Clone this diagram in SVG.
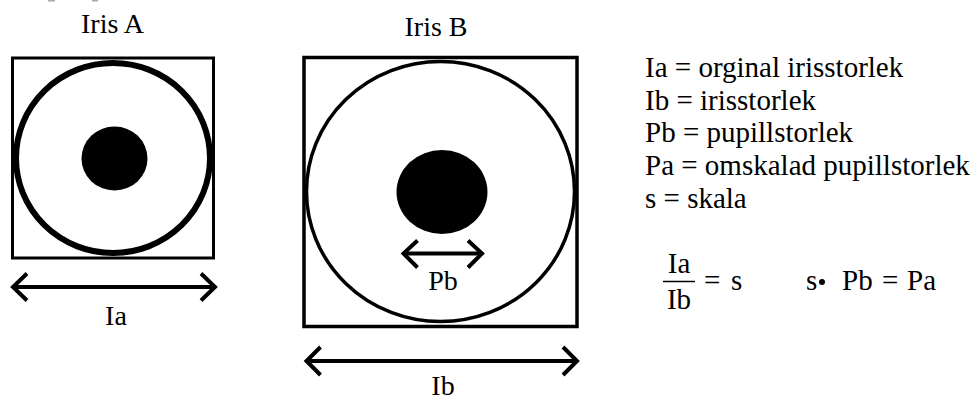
<svg xmlns="http://www.w3.org/2000/svg" width="980" height="401" viewBox="0 0 980 401">
  <style>
    text { font-family: "Liberation Serif", "Times New Roman", serif; fill: #000; }
    .lbl { font-size: 28px; text-anchor: middle; }
    .leg { font-size: 29px; }
    .box { fill: none; stroke: #000; }
    .dim { fill: none; stroke: #000; stroke-width: 4; stroke-linecap: butt; stroke-linejoin: miter; }
  </style>
  <rect width="980" height="401" fill="#fff"/>
  <rect x="48" y="0" width="7" height="1.5" fill="#aaa"/>
  <rect x="92" y="0" width="6" height="1.5" fill="#aaa"/>

  <g id="iris-a">
    <text class="lbl" x="112.5" y="33">Iris A</text>
    <rect class="box" x="12.5" y="58" width="201" height="200" stroke-width="3"/>
    <ellipse class="box" cx="113" cy="158" rx="97" ry="95" stroke-width="6"/>
    <ellipse cx="114.5" cy="158.5" rx="33" ry="32" fill="#000"/>
  </g>

  <g id="iris-b">
    <text class="lbl" x="436" y="36">Iris B</text>
    <rect class="box" x="304" y="57.5" width="273" height="269" stroke-width="3.5"/>
    <ellipse class="box" cx="440.5" cy="191.5" rx="134" ry="130" stroke-width="3.5"/>
    <ellipse cx="442" cy="192" rx="45.5" ry="42" fill="#000"/>
  </g>

  <g id="connectors">
    <g id="dim-ia">
      <line class="dim" x1="13" y1="287" x2="215" y2="287"/>
      <polyline class="dim" points="27,273.5 13,287 27,300.5"/>
      <polyline class="dim" points="201,273.5 215,287 201,300.5"/>
    </g>
    <g id="dim-pb">
      <line class="dim" x1="403.5" y1="253.5" x2="482" y2="253.5"/>
      <polyline class="dim" points="417.5,240.5 403.5,253.5 417.5,267.5"/>
      <polyline class="dim" points="468,240.5 482,253.5 468,267.5"/>
    </g>
    <g id="dim-ib">
      <line class="dim" x1="306.5" y1="361" x2="577" y2="361"/>
      <polyline class="dim" points="320.5,347 306.5,361 320.5,375"/>
      <polyline class="dim" points="563,347 577,361 563,375"/>
    </g>
  </g>

  <g id="labels">
    <text class="lbl" x="116" y="325">Ia</text>
    <text class="lbl" x="443" y="290">Pb</text>
    <text class="lbl" x="443" y="395">Ib</text>
  </g>

  <g id="legend">
    <text class="leg" x="645" y="77">Ia = orginal irisstorlek</text>
    <text class="leg" x="645" y="110">Ib = irisstorlek</text>
    <text class="leg" x="645" y="142">Pb = pupillstorlek</text>
    <text class="leg" x="645" y="175">Pa = omskalad pupillstorlek</text>
    <text class="leg" x="645" y="208">s = skala</text>
  </g>

  <g id="formulas">
    <text class="leg" x="679" y="272.5" text-anchor="middle">Ia</text>
    <line x1="663" y1="281.5" x2="695" y2="281.5" stroke="#000" stroke-width="1.5"/>
    <text class="leg" x="679" y="308.5" text-anchor="middle">Ib</text>
    <text class="leg" x="704" y="289.5">=</text>
    <text class="leg" x="731" y="289.5">s</text>
    <text class="leg" x="806" y="289.5">s</text>
    <circle cx="822" cy="282" r="3" fill="#000"/>
    <text class="leg" x="842" y="289.5">Pb</text>
    <text class="leg" x="882" y="289.5">=</text>
    <text class="leg" x="907" y="289.5">Pa</text>
  </g>
</svg>
